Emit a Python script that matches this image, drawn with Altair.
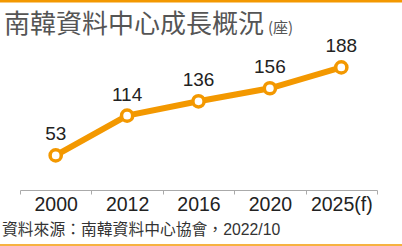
import altair as alt
import pandas as pd

years = ["2000", "2012", "2016", "2020", "2025(f)"]
counts = [53, 114, 136, 156, 188]

title_text = "南韓資料中心成長概況"
unit_text = "(座)"
source_text = "資料來源：南韓資料中心協會，2022/10"

ORANGE = "#f39800"
df = pd.DataFrame({"year": years, "count": counts})

W, H = 357, 150
PL, PT = 20, 40
MIXED = '"Liberation Sans", "Noto Sans CJK TC", sans-serif'

x = alt.X(
    "year:N",
    sort=years,
    bandPosition=0.5,
    scale=alt.Scale(type="band", paddingInner=0, paddingOuter=0),
    axis=alt.Axis(
        title=None,
        labelAngle=0,
        labelFont="Liberation Sans",
        labelFontSize=19.5,
        labelColor="#222222",
        labelPadding=1,
        domainColor="#aaaaaa",
        tickColor="#aaaaaa",
        tickSize=4,
        tickBand="extent",
        grid=False,
    ),
)
y = alt.Y("count:Q", scale=alt.Scale(domain=[0, 230]), axis=None)

base = alt.Chart(df)

line = base.mark_line(color=ORANGE, strokeWidth=6).encode(x=x, y=y)
pts = base.mark_point(
    shape="circle", filled=True, fill="white", stroke=ORANGE, strokeWidth=3.5, size=125, opacity=1
).encode(x=x, y=y)
labels = base.mark_text(
    font="Liberation Sans", fontSize=19, color="#222222", dy=-21, baseline="middle"
).encode(x=x, y=y, text="count:Q")

ann = alt.Chart(pd.DataFrame({"t": [title_text]}))
title = ann.mark_text(
    font="Noto Sans CJK TC", fontSize=26, color="#555555", align="left", baseline="alphabetic"
).encode(x=alt.value(4 - PL), y=alt.value(33 - PT), text=alt.value(title_text))
unit = ann.mark_text(
    font="Noto Sans CJK TC", fontSize=15, color="#555555", align="left", baseline="alphabetic"
).encode(x=alt.value(268 - PL), y=alt.value(33 - PT), text=alt.value(unit_text))
source = ann.mark_text(
    font=MIXED, fontSize=15.8, color="#333333", align="left", baseline="middle"
).encode(x=alt.value(2 - PL), y=alt.value(230 - PT), text=alt.value(source_text))
topbar = ann.mark_rule(color=ORANGE, strokeWidth=3).encode(
    x=alt.value(-PL), x2=alt.value(402 - PL), y=alt.value(1 - PT)
)
botbar = ann.mark_rule(color=ORANGE, strokeWidth=1.5).encode(
    x=alt.value(-PL), x2=alt.value(402 - PL), y=alt.value(245 - PT)
)

chart = (
    alt.layer(line, pts, labels, title, unit, source, topbar, botbar)
    .properties(
        width=W,
        height=H,
        autosize=alt.AutoSizeParams(type="none"),
        padding={"left": PL, "top": PT, "right": 402 - PL - W, "bottom": 246 - PT - H},
        background="white",
    )
    .configure_view(stroke=None)
)

chart.save("out.html", embed_options={"renderer": "svg", "actions": False})
